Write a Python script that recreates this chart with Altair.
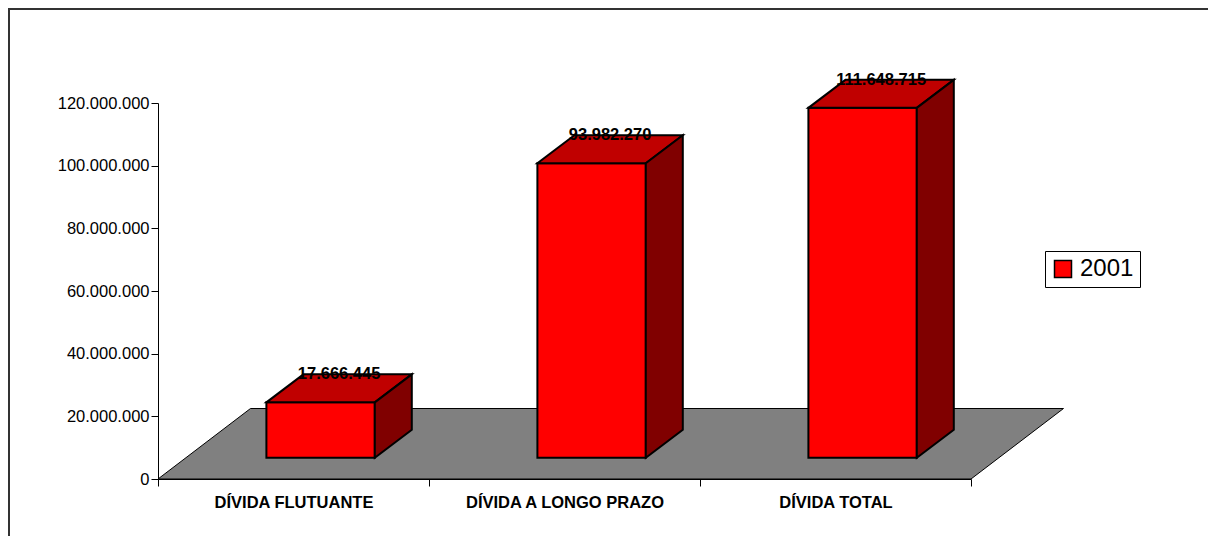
import altair as alt
import pandas as pd

# ---- data ----
categories = ["DÍVIDA FLUTUANTE", "DÍVIDA A LONGO PRAZO", "DÍVIDA TOTAL"]
values_2001 = [17666445, 93982270, 111648715]
series_name = "2001"
y_ticks = [0, 20000000, 40000000, 60000000, 80000000, 100000000, 120000000]

# ---- style / layout constants ----
W, H = 813, 376              # plot area in px
Y_MAX = 120000000
PX_X = W / 3.0               # px per category unit
PX_Y = H / Y_MAX             # px per value unit
BAR_L, BAR_R = 0.40, 0.80    # front face inside each band
BASE = 21.3 / PX_Y           # bars stand this far up the floor
DEPTH_DX = 37 / PX_X         # 3D depth of bars
DEPTH_DY = 28 / PX_Y
FLOOR_DX = 92.5 / PX_X       # floor depth
FLOOR_DY = 70.5 / PX_Y

FRONT = "#FF0000"
TOP = "#C00000"
SIDE = "#800000"
FLOOR = "#808080"

# ---- tables derived from the arrays ----
front = pd.DataFrame({
    "cat": categories,
    "series": [series_name] * len(categories),
    "x": [i + BAR_L for i in range(len(categories))],
    "x2": [i + BAR_R for i in range(len(categories))],
    "y": [BASE] * len(categories),
    "y2": [BASE + v for v in values_2001],
})

top_rows = []
side_rows = []
for i, (c, v) in enumerate(zip(categories, values_2001)):
    L, R = i + BAR_L, i + BAR_R
    top_rows.append({"cat": c, "y": BASE + v, "x": L, "x2": R})
    top_rows.append({"cat": c, "y": BASE + v + DEPTH_DY, "x": L + DEPTH_DX, "x2": R + DEPTH_DX})
    side_rows.append({"cat": c, "x": R, "y": BASE + v, "y2": BASE})
    side_rows.append({"cat": c, "x": R + DEPTH_DX, "y": BASE + v + DEPTH_DY, "y2": BASE + DEPTH_DY})
top = pd.DataFrame(top_rows)
side = pd.DataFrame(side_rows)

labels = pd.DataFrame({
    "cat": categories,
    "x": [i + (BAR_L + BAR_R) / 2 + DEPTH_DX / 2 for i in range(len(categories))],
    "y": [BASE + v + DEPTH_DY for v in values_2001],
    "txt": [f"{v:,}".replace(",", ".") for v in values_2001],
})

floor_df = pd.DataFrame({
    "y": [0, FLOOR_DY],
    "x": [0, FLOOR_DX],
    "x2": [len(categories), len(categories) + FLOOR_DX],
})

# ---- scales and axes ----
xs = alt.Scale(domain=[0, len(categories)], nice=False, zero=False)
ys = alt.Scale(domain=[0, Y_MAX], nice=False, zero=False)

cat_list = "[" + ",".join("'" + c + "'" for c in categories) + "]"
x_axis = alt.Axis(
    title=None,
    values=[k * 0.5 for k in range(2 * len(categories) + 1)],
    labelExpr=f"datum.value % 1 != 0 ? {cat_list}[floor(datum.value)] : ''",
    tickOpacity={"condition": {"test": "datum.value % 1 != 0", "value": 0}, "value": 1},
    tickSize=7,
    tickColor="black",
    domainColor="black",
    labelFont="Liberation Sans",
    labelFontWeight="bold",
    labelFontSize=16.5,
    labelColor="black",
    labelPadding=8,
    labelAngle=0,
    labelLimit=0,
    grid=False,
    labelOverlap=False,
)
y_axis = alt.Axis(
    title=None,
    values=y_ticks,
    labelExpr="replace(format(datum.value, ','), regexp(',', 'g'), '.')",
    tickSize=7,
    tickColor="black",
    domainColor="black",
    labelFont="Liberation Sans",
    labelFontSize=16.5,
    labelColor="black",
    labelPadding=2,
    labelLimit=0,
    grid=False,
)

one = pd.DataFrame({"a": [0]})
border_top = alt.Chart(one).mark_rule(color="#333333", strokeWidth=2).encode(
    x=alt.value(-149), x2=alt.value(1050), y=alt.value(-94),
)
border_left = alt.Chart(one).mark_rule(color="#333333", strokeWidth=2).encode(
    x=alt.value(-149), y=alt.value(-95), y2=alt.value(433),
)

floor_layer = alt.Chart(floor_df).mark_area(
    orient="horizontal", color=FLOOR, stroke="black", strokeWidth=1
).encode(
    y=alt.Y("y:Q", scale=ys, axis=y_axis),
    x=alt.X("x:Q", scale=xs, axis=x_axis),
    x2="x2:Q",
)

front_layer = alt.Chart(front).mark_rect(stroke="black", strokeWidth=2).encode(
    x=alt.X("x:Q", scale=xs, axis=x_axis),
    x2="x2:Q",
    y=alt.Y("y:Q", scale=ys, axis=y_axis),
    y2="y2:Q",
    fill=alt.Fill(
        "series:N",
        scale=alt.Scale(domain=[series_name], range=[FRONT]),
        legend=alt.Legend(
            title=None,
            orient="none",
            legendX=887,
            legendY=148,
            strokeColor="black",
            fillColor="white",
            padding=6,
            symbolType="square",
            symbolSize=289,
            symbolStrokeColor="black",
            symbolStrokeWidth=1.5,
            labelFont="Liberation Sans",
            labelFontSize=24,
            labelColor="black",
            labelOffset=5,
        ),
    ),
)

top_layer = alt.Chart(top).mark_area(
    orient="horizontal", color=TOP, stroke="black", strokeWidth=2
).encode(
    y=alt.Y("y:Q", scale=ys, axis=y_axis),
    x=alt.X("x:Q", scale=xs, axis=x_axis),
    x2="x2:Q",
    detail="cat:N",
)

side_layer = alt.Chart(side).mark_area(
    color=SIDE, stroke="black", strokeWidth=2
).encode(
    x=alt.X("x:Q", scale=xs, axis=x_axis),
    y=alt.Y("y:Q", scale=ys, axis=y_axis),
    y2="y2:Q",
    detail="cat:N",
)

label_layer = alt.Chart(labels).mark_text(
    font="Liberation Sans", fontWeight="bold", fontSize=16.5, color="black",
    baseline="middle", align="center",
).encode(
    x=alt.X("x:Q", scale=xs, axis=x_axis),
    y=alt.Y("y:Q", scale=ys, axis=y_axis),
    text="txt:N",
)

chart = alt.layer(
    border_top, border_left, floor_layer, front_layer, top_layer, side_layer, label_layer
).properties(
    width=W, height=H,
    autosize=alt.AutoSizeParams(type="none"),
    padding={"left": 158, "top": 103, "right": 1208 - 158 - W, "bottom": 536 - 103 - H},
    background="white",
).configure_view(stroke=None)

chart.save("out.html", embed_options={"renderer": "svg", "actions": False})
